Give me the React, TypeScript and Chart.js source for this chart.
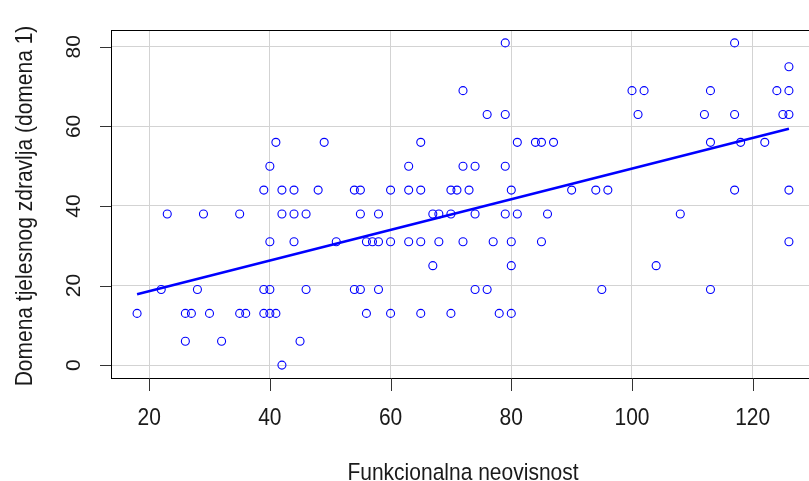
import React, { useEffect, useRef } from "react";
import { Chart, registerables } from "chart.js";

Chart.register(...registerables);

const xTicks = [20, 40, 60, 80, 100, 120];
const yTicks = [0, 20, 40, 60, 80];
const xTitle = "Funkcionalna neovisnost";
const yTitle = "Domena tjelesnog zdravlja (domena 1)";

// Funkcionalna neovisnost (x) and Domena 1 (y)
const funkcionalna = [
  79, 117,
  126,
  72, 100, 102, 113, 124, 126,
  76, 79, 101, 112, 117, 125, 126,
  41, 49, 65, 81, 84, 85, 87, 113, 118, 122,
  40, 63, 72, 74, 79,
  39, 42, 44, 48, 54, 55, 60, 63, 65, 70, 71, 73, 80, 90, 94, 96, 117, 126,
  23, 29, 35, 42, 44, 46, 55, 58, 67, 68, 70, 74, 79, 81, 86, 108,
  40, 44, 51, 56, 57, 58, 60, 63, 65, 68, 72, 77, 80, 85, 126,
  67, 80, 104,
  22, 28, 39, 40, 46, 54, 55, 58, 74, 76, 95, 113,
  18, 26, 27, 30, 35, 36, 39, 40, 41, 56, 60, 65, 70, 78, 80,
  26, 32, 45,
  42,
];
const domena = [
  81, 81,
  75,
  69, 69, 69, 69, 69, 69,
  63, 63, 63, 63, 63, 63, 63,
  56, 56, 56, 56, 56, 56, 56, 56, 56, 56,
  50, 50, 50, 50, 50,
  44, 44, 44, 44, 44, 44, 44, 44, 44, 44, 44, 44, 44, 44, 44, 44, 44, 44,
  38, 38, 38, 38, 38, 38, 38, 38, 38, 38, 38, 38, 38, 38, 38, 38,
  31, 31, 31, 31, 31, 31, 31, 31, 31, 31, 31, 31, 31, 31, 31,
  25, 25, 25,
  19, 19, 19, 19, 19, 19, 19, 19, 19, 19, 19, 19,
  13, 13, 13, 13, 13, 13, 13, 13, 13, 13, 13, 13, 13, 13, 13,
  6, 6, 6,
  0,
];

// regression line end points
const fitX = [18, 126];
const fitY = [17.8, 59.4];

const xMin = 13.68;
const xMax = 130.32;
const yMin = -3.24;
const yMax = 84.24;

const FONT = "21px 'Liberation Sans', Arial, sans-serif";

const rAxesPlugin = {
  id: "rAxes",
  afterDraw(chart: any) {
    const { ctx, chartArea: a, scales } = chart;
    const xs = scales.x;
    const ys = scales.y;
    ctx.save();
    // box
    ctx.strokeStyle = "#000";
    ctx.lineWidth = 1;
    ctx.strokeRect(
      Math.round(a.left) + 0.5,
      Math.round(a.top) + 0.5,
      Math.round(a.right - a.left),
      Math.round(a.bottom - a.top)
    );
    // tick marks
    ctx.strokeStyle = "#333";
    ctx.beginPath();
    xTicks.forEach((v) => {
      const px = Math.round(xs.getPixelForValue(v)) + 0.5;
      ctx.moveTo(px, a.bottom);
      ctx.lineTo(px, a.bottom + 13);
    });
    yTicks.forEach((v) => {
      const py = Math.round(ys.getPixelForValue(v)) + 0.5;
      ctx.moveTo(a.left, py);
      ctx.lineTo(a.left - 11, py);
    });
    ctx.stroke();

    ctx.fillStyle = "#1a1a1a";
    ctx.font = FONT;
    ctx.textAlign = "center";
    ctx.textBaseline = "alphabetic";
    // x tick labels
    xTicks.forEach((v) => {
      ctx.save();
      ctx.translate(xs.getPixelForValue(v), a.bottom + 47);
      ctx.scale(1, 1.15);
      ctx.fillText(String(v), 0, 0);
      ctx.restore();
    });
    // y tick labels (rotated)
    yTicks.forEach((v) => {
      ctx.save();
      ctx.translate(a.left - 31, ys.getPixelForValue(v));
      ctx.rotate(-Math.PI / 2);
      ctx.fillText(String(v), 0, 0);
      ctx.restore();
    });
    // x title
    ctx.save();
    ctx.translate((a.left + a.right) / 2, a.bottom + 102);
    ctx.scale(1, 1.15);
    ctx.fillText(xTitle, 0, 0);
    ctx.restore();
    // y title
    ctx.save();
    ctx.translate(31.5, (a.top + a.bottom) / 2 + 2);
    ctx.rotate(-Math.PI / 2);
    ctx.scale(1, 1.18);
    ctx.fillText(yTitle, 0, 0);
    ctx.restore();

    ctx.restore();
  },
};

export default function App() {
  const ref = useRef<HTMLCanvasElement | null>(null);

  useEffect(() => {
    if (!ref.current) return;
    const points = funkcionalna.map((x, i) => ({ x, y: domena[i] }));
    const fit = fitX.map((x, i) => ({ x, y: fitY[i] }));
    const chart = new Chart(ref.current, {
      type: "scatter",
      data: {
        datasets: [
          {
            label: "fit",
            data: fit,
            showLine: true,
            borderColor: "#0000ff",
            borderWidth: 2.5,
            pointRadius: 0,
            fill: false,
          },
          {
            label: "data",
            data: points,
            pointStyle: "circle",
            pointRadius: 4,
            borderWidth: 1.1,
            borderColor: "#0000ff",
            backgroundColor: "rgba(0,0,0,0)",
          },
        ],
      },
      options: {
        responsive: false,
        animation: false,
        maintainAspectRatio: false,
        layout: { padding: { top: 30, right: 15, left: 0, bottom: 0 } },
        plugins: {
          legend: { display: false },
          tooltip: { enabled: false },
        },
        scales: {
          x: {
            type: "linear",
            min: xMin,
            max: xMax,
            afterBuildTicks: (s: any) => {
              s.ticks = xTicks.map((v) => ({ value: v }));
            },
            afterFit: (s: any) => {
              s.height = 103;
            },
            ticks: { display: false },
            grid: { color: "#d3d3d3", lineWidth: 1, drawTicks: false },
            border: { display: false },
          },
          y: {
            type: "linear",
            min: yMin,
            max: yMax,
            afterBuildTicks: (s: any) => {
              s.ticks = yTicks.map((v) => ({ value: v }));
            },
            afterFit: (s: any) => {
              s.width = 111;
            },
            ticks: { display: false },
            grid: { color: "#d3d3d3", lineWidth: 1, drawTicks: false },
            border: { display: false },
          },
        },
      },
      plugins: [rAxesPlugin],
    });
    return () => chart.destroy();
  }, []);

  return (
    <div
      style={{
        position: "fixed",
        left: 0,
        top: 0,
        width: 809,
        height: 481,
        overflow: "hidden",
        background: "#fff",
      }}
    >
      <canvas ref={ref} width={830} height={481} style={{ width: 830, height: 481, display: "block" }} />
    </div>
  );
}
